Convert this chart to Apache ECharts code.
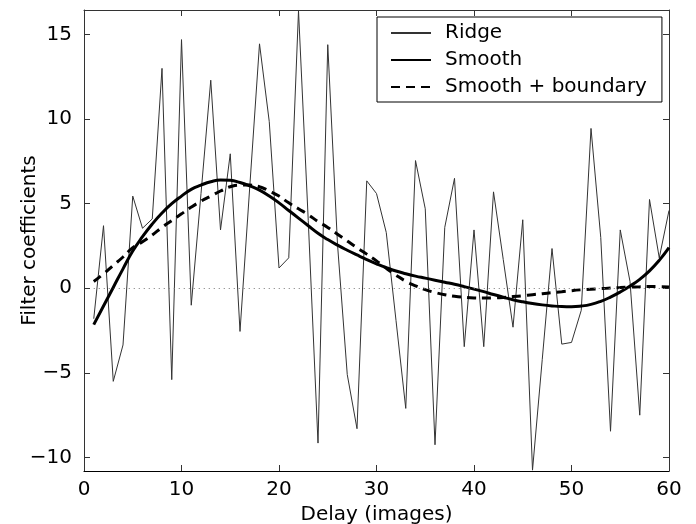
<!DOCTYPE html>
<html>
<head>
<meta charset="utf-8">
<script src="https://cdn.jsdelivr.net/npm/echarts@6/dist/echarts.min.js"></script>
<style>
html,body{margin:0;padding:0;background:#fff;}
#chart{width:696px;height:524px;}
</style>
</head>
<body>
<div id="chart"></div>
<script>
const delays = [1,2,3,4,5,6,7,8,9,10,11,12,13,14,15,16,17,18,19,20,21,22,23,24,25,26,27,28,29,30,
  31,32,33,34,35,36,37,38,39,40,41,42,43,44,45,46,47,48,49,50,51,52,53,54,55,56,57,58,59,60];
const ridge = [-1.8,3.7,-5.5,-3.35,5.45,3.55,4.1,13.0,-5.4,14.7,
  -1.0,5.6,12.3,3.45,7.95,-2.55,6.0,14.45,9.85,1.2,
  1.8,16.4,4.0,-9.15,14.4,2.6,-5.1,-8.3,6.35,5.6,
  3.3,-1.9,-7.1,7.55,4.7,-9.25,3.6,6.5,-3.45,3.45,
  -3.45,5.7,1.7,-2.3,4.05,-10.75,-4.2,2.35,-3.3,-3.2,
  -1.3,9.45,3.0,-8.45,3.45,0.4,-7.5,5.25,1.8,4.6];
const smooth = [-2.15,-1.05,0.05,1.15,2.2,3.05,3.8,4.45,5.0,5.45,
  5.85,6.1,6.3,6.4,6.38,6.25,6.05,5.8,5.45,5.05,
  4.6,4.15,3.7,3.25,2.88,2.55,2.25,1.97,1.7,1.45,
  1.22,1.02,0.86,0.72,0.6,0.48,0.36,0.24,0.1,-0.05,
  -0.2,-0.37,-0.53,-0.68,-0.8,-0.9,-0.98,-1.04,-1.08,-1.09,
  -1.05,-0.95,-0.77,-0.52,-0.22,0.13,0.53,1.03,1.65,2.4];
const smoothBoundary = [0.4,0.85,1.35,1.85,2.4,2.75,3.15,3.6,4.0,4.4,
  4.8,5.15,5.45,5.75,6.0,6.1,6.1,6.0,5.75,5.45,
  5.05,4.7,4.35,3.95,3.6,3.2,2.8,2.4,2.02,1.62,
  1.18,0.78,0.42,0.15,-0.08,-0.25,-0.38,-0.47,-0.53,-0.57,
  -0.58,-0.57,-0.54,-0.49,-0.44,-0.38,-0.32,-0.26,-0.2,-0.14,
  -0.09,-0.05,-0.02,0.01,0.04,0.07,0.09,0.1,0.1,0.08];
const xTicks = [0,10,20,30,40,50,60];
const yTicks = [-10,-5,0,5,10,15];
const seriesNames = ['Ridge','Smooth','Smooth + boundary'];
const xRange = [0,60];
const yRange = [-10.8,16.45];

const FONT = 'DejaVu Sans';
const axisColor = '#333';
const pair = arr => delays.map((d,i)=>[d, arr[i]]);
const minus = v => String(v).replace('-', '\u2212');

const chart = echarts.init(document.getElementById('chart'), null, {renderer:'canvas'});
const baseX = {
  type:'value', min:xRange[0], max:xRange[1], interval:10,
  axisLine:{show:true, onZero:false, lineStyle:{color:axisColor,width:1}},
  axisTick:{show:true, inside:true, length:6, lineStyle:{color:axisColor}},
  splitLine:{show:false}
};
const baseY = {
  type:'value', min:yRange[0], max:yRange[1],
  axisLine:{show:true, onZero:false, lineStyle:{color:axisColor,width:1}},
  axisTick:{show:true, inside:true, length:6, customValues:yTicks, lineStyle:{color:axisColor}},
  splitLine:{show:false}
};
chart.setOption({
  animation:false,
  backgroundColor:'#fff',
  grid:{left:84, right:27, top:10, bottom:53, containLabel:false, outerBoundsMode:'none'},
  xAxis:[
    Object.assign({}, baseX, {
      position:'bottom',
      name:'Delay (images)', nameLocation:'middle', nameGap:34,
      nameTextStyle:{fontFamily:FONT, fontSize:20, color:'#000'},
      axisLine:{show:true, onZero:false, lineStyle:{color:'#000',width:1.2}},
      axisLabel:{show:true, margin:9, fontFamily:FONT, fontSize:20, color:'#000'}
    }),
    Object.assign({}, baseX, {position:'top', axisLabel:{show:false}})
  ],
  yAxis:[
    Object.assign({}, baseY, {
      position:'left',
      name:'Filter coefficients', nameLocation:'middle', nameGap:44, nameRotate:90,
      nameMoveOverlap:false,
      nameTextStyle:{fontFamily:FONT, fontSize:20, color:'#000'},
      axisLabel:{show:true, margin:12, fontFamily:FONT, fontSize:20, color:'#000',
        customValues:yTicks, formatter:minus}
    }),
    Object.assign({}, baseY, {position:'right', axisLabel:{show:false}})
  ],
  legend:{
    left:377, top:17, orient:'vertical',
    data:seriesNames,
    itemWidth:40, itemHeight:20, itemGap:7,
    padding:[6,15,5,13],
    backgroundColor:'#fff', borderColor:'#000', borderWidth:1,
    itemStyle:{opacity:0},
    textStyle:{fontFamily:FONT, fontSize:20, color:'#000', padding:[0,0,0,9]},
    selectedMode:false
  },
  series:[
    {
      name:seriesNames[0], type:'line', data:pair(ridge), symbol:'none',
      lineStyle:{color:'#333', width:1}, itemStyle:{color:'#333'},
      markLine:{
        silent:true, symbol:'none', label:{show:false},
        lineStyle:{color:'#777', width:1, type:[1,4]},
        data:[[{coord:[delays[0],0]},{coord:[delays[delays.length-1],0]}]]
      },
      z:2
    },
    {
      name:seriesNames[1], type:'line', data:pair(smooth), symbol:'none', smooth:true,
      lineStyle:{color:'#000', width:3}, itemStyle:{color:'#000'}, z:3
    },
    {
      name:seriesNames[2], type:'line', data:pair(smoothBoundary), symbol:'none', smooth:true,
      lineStyle:{color:'#000', width:3, type:[9,6]}, itemStyle:{color:'#000'}, z:4
    }
  ]
});
</script>
</body>
</html>
